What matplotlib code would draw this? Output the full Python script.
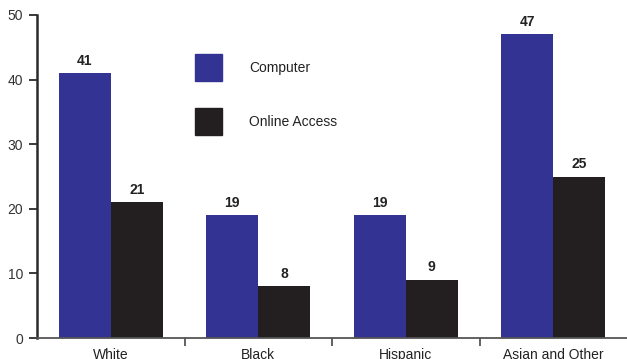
import numpy as np
import matplotlib.pyplot as plt
from matplotlib.patches import Rectangle

plt.rcParams['font.family'] = ['Liberation Sans', 'DejaVu Sans']

groups = ['White', 'Black', 'Hispanic', 'Asian and Other']
computer = [41, 19, 19, 47]
online = [21, 8, 9, 25]
series = ['Computer', 'Online Access']

blue = '#333394'
dark = '#231f20'
axis_col = '#2b2b2b'

fig = plt.figure(figsize=(6.27, 3.59), dpi=100)
ax = fig.add_axes([37 / 627, 21 / 359, 590 / 627, 323 / 359])

x = np.arange(len(groups))
w = 0.352
b1 = ax.bar(x - w / 2, computer, w, color=blue)
b2 = ax.bar(x + w / 2, online, w, color=dark)

for bars, vals in ((b1, computer), (b2, online)):
    for rect, v in zip(bars, vals):
        ax.annotate(str(v), (rect.get_x() + rect.get_width() / 2, v),
                    xytext=(0, 4), textcoords='offset points',
                    ha='center', va='bottom', fontsize=10,
                    fontweight='bold', color='#222222')

ax.set_xlim(-0.5, 3.5)
ax.set_ylim(0, 50)
ax.set_yticks([0, 10, 20, 30, 40, 50])
ax.tick_params(axis='y', length=6, width=1.3, color=axis_col,
               labelsize=10, labelcolor='#333333', pad=4)

# category separators as ticks, names as minor labels
ax.set_xticks([0.5, 1.5, 2.5])
ax.set_xticklabels([])
ax.tick_params(axis='x', which='major', length=6, width=1.3,
               color='#555555', direction='out')
ax.set_xticks(x, minor=True)
ax.set_xticklabels(groups, minor=True)
ax.tick_params(axis='x', which='minor', length=0, labelsize=10,
               labelcolor='#222222', pad=7)

for s in ('top', 'right'):
    ax.spines[s].set_visible(False)
ax.spines['left'].set_linewidth(1.8)
ax.spines['left'].set_color(axis_col)
ax.spines['bottom'].set_linewidth(1.3)
ax.spines['bottom'].set_color('#555555')

# key: square swatches with labels
for (y0, col, name) in ((0.796, blue, series[0]), (0.628, dark, series[1])):
    ax.add_patch(Rectangle((0.268, y0), 0.046, 0.083, color=col,
                           transform=ax.transAxes, clip_on=False))
    ax.text(0.359, y0 + 0.041, name, transform=ax.transAxes,
            ha='left', va='center', fontsize=10, color='#222222')

fig.savefig('out.png', dpi=100)
